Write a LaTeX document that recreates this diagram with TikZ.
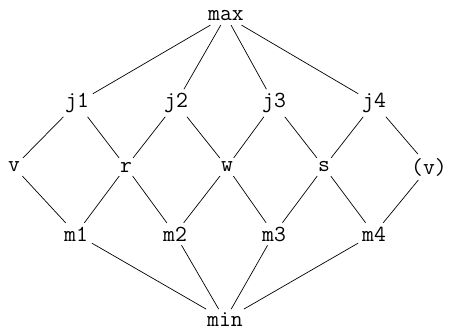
\documentclass[tikz,border=0pt]{standalone}
\begin{document}
\begin{tikzpicture}[x=1pt,y=-1pt,
  lbl/.style={font=\ttfamily\fontsize{23}{23}\selectfont, inner sep=4pt, outer sep=0pt},
  edge/.style={line width=0.7pt}]
\useasboundingbox (0,0) rectangle (449,331);
\node[lbl] (max) at (226,16) {max};
\node[lbl] (j1) at (77,103) {j1};
\node[lbl] (j2) at (176,103) {j2};
\node[lbl] (j3) at (274,103) {j3};
\node[lbl] (j4) at (374,103) {j4};
\node[lbl] (v) at (14,167) {v};
\node[lbl] (r) at (126,167) {r};
\node[lbl] (w) at (227,167) {w};
\node[lbl] (s) at (324,167) {s};
\node[lbl] (v2) at (429,167) {(v)};
\node[lbl] (m1) at (76,234) {m1};
\node[lbl] (m2) at (175,234) {m2};
\node[lbl] (m3) at (274,234) {m3};
\node[lbl] (m4) at (374,234) {m4};
\node[lbl] (min) at (225,320) {min};
\foreach \a/\b in {max/j1,max/j2,max/j3,max/j4,
  j1/v,j1/r,j2/r,j2/w,j3/w,j3/s,j4/s,j4/v2,
  v/m1,r/m1,r/m2,w/m2,w/m3,s/m3,s/m4,v2/m4,
  m1/min,m2/min,m3/min,m4/min}
  \draw[edge] (\a) -- (\b);
\end{tikzpicture}
\end{document}
